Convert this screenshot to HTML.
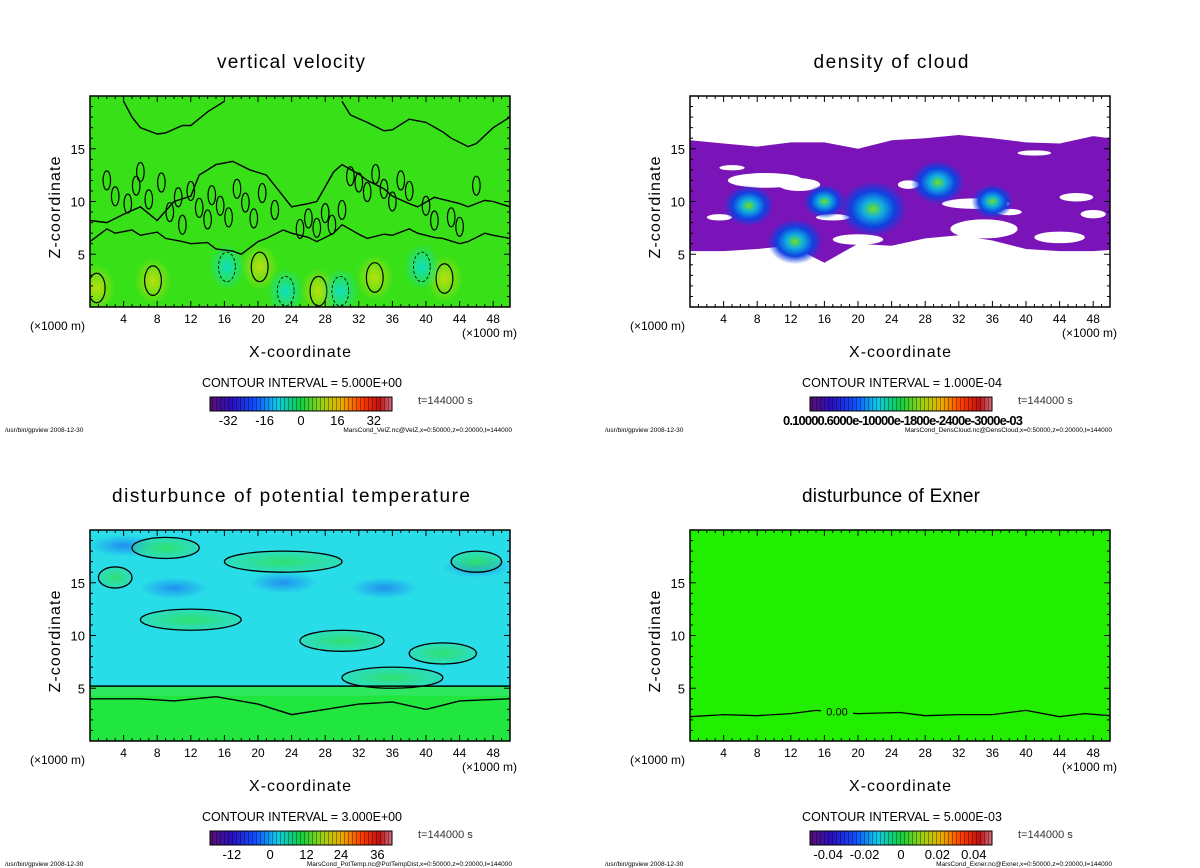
<!DOCTYPE html>
<html><head><meta charset="utf-8"><style>
html,body{margin:0;padding:0;background:#fff;}
svg{display:block;font-family:"Liberation Sans",sans-serif;}
</style></head><body>
<svg id="s" width="1200" height="868" viewBox="0 0 1200 868" xmlns="http://www.w3.org/2000/svg">
<defs>
<linearGradient id="cb" x1="0" x2="1" y1="0" y2="0">
<stop offset="0" stop-color="#5a1070"/><stop offset="0.12" stop-color="#2a10c0"/><stop offset="0.25" stop-color="#1050ff"/>
<stop offset="0.37" stop-color="#10c8e8"/><stop offset="0.5" stop-color="#10d040"/><stop offset="0.62" stop-color="#a0d010"/>
<stop offset="0.72" stop-color="#e8b000"/><stop offset="0.83" stop-color="#ff4000"/><stop offset="0.93" stop-color="#c01010"/><stop offset="1" stop-color="#d07080"/>
</linearGradient>
<pattern id="stripes" width="4" height="20" patternUnits="userSpaceOnUse"><rect x="0" y="0" width="1" height="20" fill="rgba(0,0,0,0.35)"/></pattern>
<radialGradient id="yel"><stop offset="0" stop-color="#b8e010"/><stop offset="1" stop-color="#b8e010" stop-opacity="0"/></radialGradient>
<radialGradient id="cya"><stop offset="0" stop-color="#10e0c0"/><stop offset="1" stop-color="#10e0c0" stop-opacity="0"/></radialGradient>
<radialGradient id="cld"><stop offset="0" stop-color="#70e020"/><stop offset="0.3" stop-color="#10b0e0"/><stop offset="0.65" stop-color="#1040e0"/><stop offset="1" stop-color="#1040e0" stop-opacity="0"/></radialGradient>
<radialGradient id="grn"><stop offset="0" stop-color="#30e070"/><stop offset="1" stop-color="#30e070" stop-opacity="0.3"/></radialGradient>
<radialGradient id="blu"><stop offset="0" stop-color="#2090f0"/><stop offset="1" stop-color="#2090f0" stop-opacity="0"/></radialGradient>
</defs>
</svg>
<script>
// ---- data ----
const xTicks = [4,8,12,16,20,24,28,32,36,40,44,48];
const zTicks = [5,10,15];
const panelTitles = ["vertical velocity","density of cloud","disturbunce of potential temperature","disturbunce of Exner"];
const intervals = ["CONTOUR INTERVAL = 5.000E+00","CONTOUR INTERVAL = 1.000E-04","CONTOUR INTERVAL = 3.000E+00","CONTOUR INTERVAL = 5.000E-03"];
const footers = ["MarsCond_VelZ.nc@VelZ,x=0:50000,z=0:20000,t=144000","MarsCond_DensCloud.nc@DensCloud,x=0:50000,z=0:20000,t=144000","MarsCond_PotTemp.nc@PotTempDist,x=0:50000,z=0:20000,t=144000","MarsCond_Exner.nc@Exner,x=0:50000,z=0:20000,t=144000"];
const cbLabels = [["-32","-16","0","16","32"],[],["-12","0","12","24","36"],["-0.04","-0.02","0","0.02","0.04"]];
const cbFrac = [[0.1,0.3,0.5,0.7,0.9],[],[0.12,0.33,0.53,0.72,0.92],[0.1,0.3,0.5,0.7,0.9]];
// vertical velocity contours [x,z]
const velLineA = [[0,8.2],[2,8.0],[4,8.8],[6,9.5],[8,8.2],[10,10.0],[12,10.5],[13,12.5],[15,13.5],[17,13.8],[19,13.0],[21,12.5],[23,10.5],[24,9.5],[26,9.8],[27,10.0],[29,12.8],[30,13.5],[32,12.6],[33,12.0],[35,11.2],[36,10.5],[38,9.8],[39,9.5],[41,10.4],[42,10.2],[44,9.8],[45,9.5],[47,10.1],[48,10.0],[50,9.5]];
const velLineB = [[0,6.2],[2,7.4],[3,7.0],[5,7.3],[6,6.8],[8,7.1],[9,6.5],[11,6.2],[12,6.0],[14,6.1],[15,5.5],[17,5.3],[18,5.0],[20,6.2],[21,6.5],[23,7.3],[24,7.0],[26,6.6],[27,6.2],[29,7.0],[30,7.8],[32,6.9],[33,6.5],[35,6.9],[36,6.8],[38,7.4],[39,7.0],[41,6.6],[42,6.5],[44,6.0],[45,6.2],[47,7.0],[48,6.8],[50,6.5]];
const velLineC = [[4,19.5],[5,18],[6,17.0],[8,16.4],[9,16.5],[11,17.2],[12,17.2],[14,18.5],[16,19.5]];
const velLineD = [[30,19.5],[31,18.2],[33,17.5],[35,16.7],[36,16.8],[38,17.8],[40,17.5],[42,16.6],[43,16.0],[45,15.2],[46,15.5],[48,17.0],[50,18.0]];
const velNoiseX = [3,4.5,5.5,7,8.5,9.5,10.5,12,13,14,14.5,15.5,16.5,17.5,18.5,19.5,20.5,22,26,27,28,28.8,30,31,32,33,34,35,36,37,38,40,41,43,44,46,2,6,11,25];
const velNoiseZ = [10.5,9.8,11.5,10.2,11.8,9.0,10.4,11.0,9.4,8.3,10.6,9.6,8.5,11.2,9.9,8.4,10.8,9.2,8.4,7.5,8.9,7.8,9.2,12.4,11.8,10.9,12.6,11.2,10.0,12.0,11.0,9.6,8.2,8.5,7.6,11.5,12.0,12.8,7.8,7.4];
const velBlobsX = [0.8,7.5,16.3,20.2,23.3,27.2,33.9,42.2,29.8,39.5];
const velBlobsZ = [1.8,2.5,3.8,3.8,1.5,1.5,2.8,2.7,1.5,3.8];
const velBlobsT = ["y","y","c","y","c","y","y","y","c","c"];
// cloud
const cldX = [0,4,8,12,16,20,24,28,32,36,40,44,48,50];
const cldTop = [15.8,15.5,15.2,15.6,15.6,15.0,15.8,16.0,16.3,16.0,15.6,15.5,16.2,16.0];
const cldBot = [5.3,5.3,5.5,5.8,4.2,6.0,5.8,6.5,6.8,6.3,5.5,5.3,5.3,5.4];
const holeX = [9,13,20,34,35,44,46,3.5,38,17,5,48,26,41];
const holeZ = [12.0,11.6,6.4,9.8,7.4,6.6,10.4,8.5,9.0,8.5,13.2,8.8,11.6,14.6];
const holeW = [9,5,6,8,8,6,4,3,3,4,3,3,2.5,4];
const holeH = [1.4,1.2,1.0,1.0,1.8,1.1,0.8,0.6,0.6,0.6,0.5,0.8,0.8,0.5];
const cldCoreX = [21.8,12.5,29.5,7,36,16];
const cldCoreZ = [9.3,6.2,11.8,9.6,10,10];
const cldCoreR = [4,3.3,3.2,3,2.5,2.5];
// potential temperature
const ptLayer = [5.2,5.2];
const ptLineLow = [[0,4.0],[6,4.0],[10,3.8],[15,4.2],[20,3.5],[24,2.5],[28,3.0],[32,3.5],[36,3.7],[40,3.0],[44,3.8],[50,4.0]];
const ptGreenX = [9,23,46,3,12,30,42,36];
const ptGreenZ = [18.3,17.0,17.0,15.5,11.5,9.5,8.3,6.0];
const ptGreenW = [4,7,3,2,6,5,4,6];
const ptBlueX = [4,23,46,10,35];
const ptBlueZ = [18.5,15,16.5,14.5,14.5];
// exner
const exX = [0,4,8,12,15,20,25,28,32,36,40,44,47,50];
const exZ = [2.3,2.5,2.4,2.6,2.9,2.6,2.7,2.4,2.5,2.5,2.9,2.3,2.6,2.4];

const NS="http://www.w3.org/2000/svg";
const svg=document.getElementById('s');
function mk(tag,attrs,parent){const e=document.createElementNS(NS,tag);for(const k in attrs)e.setAttribute(k,attrs[k]);(parent||svg).appendChild(e);return e;}
const W=420,H=211;
function axes(ox,oy){return {sx:x=>ox+x/50*W, sz:z=>oy+H-z/20*H, px:w=>w/50*W, pz:h=>h/20*H};}
function poly(pts,a){return pts.map(p=>a.sx(p[0]).toFixed(1)+','+a.sz(p[1]).toFixed(1)).join(' ');}

function panel(i,ox,oy,fill){
  const g=mk('g',{});
  
  
  const a=axes(ox,oy);
  const clip=mk('clipPath',{id:'c'+i},g);mk('rect',{x:ox,y:oy,width:W,height:H},clip);
  const plot=mk('g',{'clip-path':'url(#c'+i+')'},g);
  
  
  mk('rect',{x:ox,y:oy,width:W,height:H,fill:fill},plot);
  return {g,a,plot};
}
function frame(i,ox,oy,P){
  const g=P.g,a=P.a;
  const fr=mk('rect',{x:ox,y:oy,width:W,height:H,fill:'none',stroke:'#000','stroke-width':1.5},g);
  
  
  for(let x=1;x<50;x++){const big=x%4==0;const L=big?6:3;
    mk('line',{x1:a.sx(x),x2:a.sx(x),y1:oy+H,y2:oy+H-L,stroke:'#000'},g);
    mk('line',{x1:a.sx(x),x2:a.sx(x),y1:oy,y2:oy+L,stroke:'#000'},g);}
  for(let z=1;z<20;z++){const L=z%5==0?6:3;
    mk('line',{x1:ox,x2:ox+L,y1:a.sz(z),y2:a.sz(z),stroke:'#000'},g);
    mk('line',{x1:ox+W,x2:ox+W-L,y1:a.sz(z),y2:a.sz(z),stroke:'#000'},g);}
  xTicks.forEach(v=>{const t=mk('text',{x:a.sx(v),y:oy+H+16,'font-size':12,'text-anchor':'middle'},g);t.textContent=v;
    });
  zTicks.forEach(v=>{const t=mk('text',{x:ox-5,y:a.sz(v)+5,'font-size':13,'text-anchor':'end'},g);t.textContent=v;
    });
  let t=mk('text',{x:ox-60,y:oy+H+23,'font-size':12},g);t.textContent='(×1000 m)';
  
  t=mk('text',{x:ox+W+7,y:oy+H+30,'font-size':12,'text-anchor':'end'},g);t.textContent='(×1000 m)';
  
  t=mk('text',{x:ox+W/2,y:oy+H+50,'font-size':16,'text-anchor':'middle',textLength:102},g);t.textContent='X-coordinate';
  
  t=mk('text',{x:0,y:0,'font-size':16,'text-anchor':'middle',textLength:102,transform:`translate(${ox-30},${oy+H/2+6}) rotate(-90)`},g);t.textContent='Z-coordinate';
  
  const tl=[148,155,358,178][i];
  t=mk('text',{x:ox+W/2-9,y:oy-28,'font-size':19,'text-anchor':'middle',textLength:tl,lengthAdjust:'spacing'},g);t.textContent=panelTitles[i];
  
  const lx=ox-90,ly=oy;
  t=mk('text',{x:lx+302,y:ly+291,'font-size':12.5,'text-anchor':'middle',textLength:200},g);t.textContent=intervals[i];
  
  const cb=mk('g',{},g);
  mk('rect',{x:lx+210,y:ly+301,width:182,height:14,fill:'url(#cb)'},cb);
  mk('rect',{x:lx+210,y:ly+301,width:182,height:14,fill:'url(#stripes)'},cb);
  mk('rect',{x:lx+210,y:ly+301,width:182,height:14,fill:'none',stroke:'#000'},cb);
  cbLabels[i].forEach((s,k)=>{const e=mk('text',{x:lx+210+cbFrac[i][k]*182,y:ly+329,'font-size':13,'text-anchor':'middle'},cb);e.textContent=s;
    });
  if(i==1){const e=mk('text',{x:lx+303,y:ly+329,'font-size':13,'text-anchor':'middle',textLength:240,'font-weight':'bold'},cb);e.textContent='0.10000.6000e-10000e-1800e-2400e-3000e-03';
    }
  t=mk('text',{x:lx+418,y:ly+308,'font-size':11,fill:'#333'},g);t.textContent='t=144000 s';
  
  t=mk('text',{x:lx+5,y:ly+336,'font-size':6.5},g);t.textContent='/usr/bin/gpview  2008-12-30';
  
  t=mk('text',{x:lx+512,y:ly+336,'font-size':6.5,'text-anchor':'end'},g);t.textContent=footers[i];
  
}

// Panel 1: vertical velocity
let P=panel(0,90,96,'#38e018');
velBlobsX.forEach((x,k)=>{const e=mk('ellipse',{cx:P.a.sx(x),cy:P.a.sz(velBlobsZ[k]),rx:P.a.px(2.2),ry:P.a.pz(2.2),fill:velBlobsT[k]=='y'?'url(#yel)':'url(#cya)'},P.plot);
  
  const c=mk('ellipse',{cx:P.a.sx(x),cy:P.a.sz(velBlobsZ[k]),rx:P.a.px(1),ry:P.a.pz(1.4),fill:'none',stroke:'#000','stroke-width':velBlobsT[k]=='y'?1.2:0.8,'stroke-dasharray':velBlobsT[k]=='y'?'':'3,2'},P.plot);
  });
velNoiseX.forEach((x,k)=>{const c=mk('ellipse',{cx:P.a.sx(x),cy:P.a.sz(velNoiseZ[k]),rx:P.a.px(0.45),ry:P.a.pz(0.9),fill:'none',stroke:'#000','stroke-width':1.2},P.plot);
  });
[velLineA,velLineB,velLineC,velLineD].forEach(L=>{const e=mk('polyline',{points:poly(L,P.a),fill:'none',stroke:'#000','stroke-width':1.4},P.plot);
  });
frame(0,90,96,P);

// Panel 2: cloud
P=panel(1,690,96,'#fff');
{const pts=cldX.map((x,k)=>[x,cldTop[k]]).concat(cldX.slice().reverse().map((x,k)=>[x,cldBot[cldX.length-1-k]]));
 const e=mk('polygon',{points:poly(pts,P.a),fill:'#7a14b8'},P.plot);
 }
holeX.forEach((x,k)=>{const e=mk('ellipse',{cx:P.a.sx(x),cy:P.a.sz(holeZ[k]),rx:P.a.px(holeW[k]/2),ry:P.a.pz(holeH[k]/2),fill:'#fff'},P.plot);
  });
cldCoreX.forEach((x,k)=>{const e=mk('ellipse',{cx:P.a.sx(x),cy:P.a.sz(cldCoreZ[k]),rx:P.a.px(cldCoreR[k]),ry:P.a.pz(cldCoreR[k]*0.65),fill:'url(#cld)'},P.plot);
  });
frame(1,690,96,P);

// Panel 3: potential temperature
P=panel(2,90,530,'#28dce8');
{const e=mk('rect',{x:90,y:P.a.sz(ptLayer[0]),width:W,height:530+H-P.a.sz(ptLayer[0]),fill:'#2ee860'},P.plot);
 
 const e2=mk('rect',{x:90,y:P.a.sz(4.3),width:W,height:530+H-P.a.sz(4.3),fill:'#22e640'},P.plot);
 }
ptBlueX.forEach((x,k)=>{const e=mk('ellipse',{cx:P.a.sx(x),cy:P.a.sz(ptBlueZ[k]),rx:P.a.px(4),ry:P.a.pz(1),fill:'url(#blu)'},P.plot);
  });
ptGreenX.forEach((x,k)=>{const e=mk('ellipse',{cx:P.a.sx(x),cy:P.a.sz(ptGreenZ[k]),rx:P.a.px(ptGreenW[k]),ry:P.a.pz(1.0),fill:'url(#grn)',stroke:'#000','stroke-width':1.3},P.plot);
  });
{let e=mk('line',{x1:90,x2:510,y1:P.a.sz(ptLayer[1]),y2:P.a.sz(ptLayer[1]),stroke:'#000','stroke-width':1.5},P.plot);
 
 e=mk('polyline',{points:poly(ptLineLow,P.a),fill:'none',stroke:'#000','stroke-width':1.4},P.plot);
 }
frame(2,90,530,P);

// Panel 4: exner
P=panel(3,690,530,'#22ee00');
{const e=mk('polyline',{points:poly(exX.map((x,k)=>[x,exZ[k]]),P.a),fill:'none',stroke:'#000','stroke-width':1.3},P.plot);
 
 const r=mk('rect',{x:P.a.sx(15.6),y:P.a.sz(2.8)-6,width:P.a.px(3.8),height:12,fill:'#22ee00'},P.plot);
 
 const t=mk('text',{x:P.a.sx(17.5),y:P.a.sz(2.8)+4,'font-size':11,'text-anchor':'middle'},P.plot);t.textContent='0.00';
 }
frame(3,690,530,P);
</script>
</body></html>
